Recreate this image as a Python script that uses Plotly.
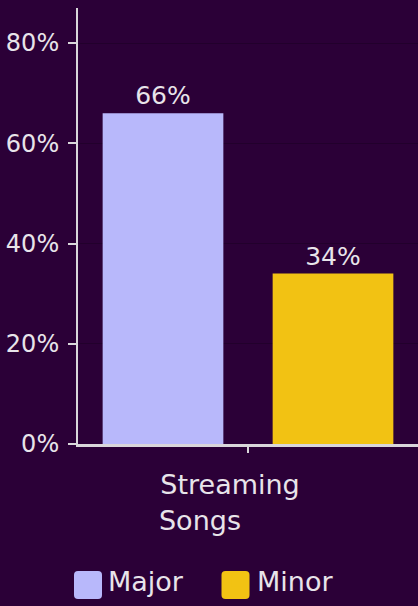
import plotly.graph_objects as go

NB = "\u00a0"
categories = ["Streaming<br>Songs" + NB * 7]
series_names = ["Major", "Minor"]
major_values = [66]
minor_values = [34]
colors = ["#b8b8fb", "#f2c213"]
tick_vals = [0, 20, 40, 60, 80]
tick_text = ["0%", "20%", "40%", "60%", "80%"]

FONT = "DejaVu Sans"
TXT = "#e8e4ea"
BG = "#2b0037"
AX = "#d9d6da"

fig = go.Figure()
for name, vals, col in zip(series_names, [major_values, minor_values], colors):
    fig.add_trace(go.Bar(
        name=name, x=categories, y=vals, marker=dict(color=col, line=dict(width=0)),
        text=[f"{v}%" for v in vals], textposition="outside", cliponaxis=False,
        textfont=dict(family=FONT, size=25, color=TXT),
    ))

# rounded legend swatches (decoration drawn under the legend icons)
L, T, H = 78, 8, 439
legend_y_px = 589
swatch_x_px = [88, 235.5]
r = "M -10,-14 L 10,-14 Q 14,-14 14,-10 L 14,10 Q 14,14 10,14 L -10,14 Q -14,14 -14,10 L -14,-10 Q -14,-14 -10,-14 Z"
for col, sx in zip(colors, swatch_x_px):
    fig.add_shape(type="path", path=r, xref="paper", yref="paper",
                  xsizemode="pixel", ysizemode="pixel",
                  xanchor=(sx - L) / 340, yanchor=-(legend_y_px - (T + H)) / H,
                  fillcolor=col, line=dict(width=0), layer="above")

fig.update_layout(
    width=418, height=606,
    margin=dict(l=78, r=0, t=8, b=159),
    paper_bgcolor=BG, plot_bgcolor=BG,
    barmode="group", bargap=0.0, bargroupgap=0.29,
    font=dict(family=FONT, size=24, color=TXT),
    showlegend=True,
    legend=dict(orientation="h", x=-0.0294, xanchor="left", y=-(legend_y_px - 4 - (T + H)) / H,
                yanchor="middle",
                font=dict(family=FONT, size=27, color=TXT),
                entrywidth=104, entrywidthmode="pixels",
                bgcolor="rgba(0,0,0,0)"),
)
fig.update_yaxes(
    range=[0, 87], tickvals=tick_vals, ticktext=tick_text,
    showline=True, linecolor=AX, linewidth=2,
    ticks="outside", ticklen=8, tickwidth=2, tickcolor=AX,
    showgrid=True, gridcolor="#22002c", gridwidth=1, zeroline=False,
    tickfont=dict(family=FONT, size=24, color=TXT),
    ticklabelstandoff=4,
)
fig.update_xaxes(
    showline=True, linecolor=AX, linewidth=3,
    ticks="outside", ticklen=6, tickwidth=2, tickcolor=AX,
    tickfont=dict(family=FONT, size=27, color=TXT),
    ticklabelstandoff=9, ticklabelshift=-18,
)

fig.write_html("out.html", config={"displayModeBar": False},
               post_script="document.body.style.margin='0px';")
